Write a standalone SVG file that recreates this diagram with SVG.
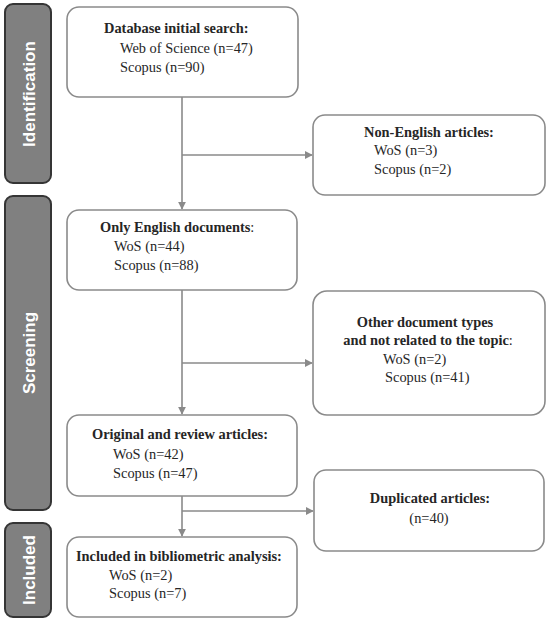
<svg xmlns="http://www.w3.org/2000/svg" width="550" height="623" viewBox="0 0 550 623">
<defs>
<style>
.side{fill:#808080;stroke:#353535;stroke-width:2}
.sidet{font-family:"Liberation Sans",Arial,sans-serif;font-weight:bold;font-size:17px;fill:#fff;text-anchor:middle}
.box{fill:#fff;stroke:#8a8a8a;stroke-width:1.6}
.t{font-family:"Liberation Serif","Times New Roman",serif;font-size:14.4px;fill:#262626}
.b{font-weight:bold}
.n{font-weight:normal}
.c{stroke:#8a8a8a;stroke-width:1.6;fill:none}
</style>
<marker id="arr" viewBox="0 0 10 10" refX="9" refY="5" markerWidth="8" markerHeight="8" markerUnits="userSpaceOnUse" orient="auto">
<path d="M0,0 L10,5 L0,10 z" fill="#8a8a8a"/>
</marker>
</defs>
<rect width="550" height="623" fill="#fff"/>
<g id="phase-identification">
<rect class="side" x="5" y="4" width="46" height="179" rx="8"/>
<text class="sidet" transform="translate(35,94) rotate(-90)">Identification</text>
</g>
<g id="phase-screening">
<rect class="side" x="5" y="196" width="46" height="314" rx="8"/>
<text class="sidet" transform="translate(35,353) rotate(-90)">Screening</text>
</g>
<g id="phase-included">
<rect class="side" x="5" y="523" width="46" height="94" rx="8"/>
<text class="sidet" transform="translate(35,570) rotate(-90)">Included</text>
</g>
<g id="connectors">
<line class="c" x1="182" y1="97" x2="182" y2="209" marker-end="url(#arr)"/>
<line class="c" x1="182" y1="155" x2="312" y2="155" marker-end="url(#arr)"/>
<line class="c" x1="182" y1="290" x2="182" y2="414" marker-end="url(#arr)"/>
<line class="c" x1="182" y1="363" x2="312" y2="363" marker-end="url(#arr)"/>
<line class="c" x1="182" y1="496" x2="182" y2="536" marker-end="url(#arr)"/>
<line class="c" x1="182" y1="511" x2="313" y2="511" marker-end="url(#arr)"/>
</g>
<g id="box-database">
<rect class="box" x="67" y="7" width="231" height="90" rx="12"/>
<text class="t b" x="104" y="33">Database initial search:</text>
<text class="t" x="120" y="53">Web of Science (n=47)</text>
<text class="t" x="120" y="72">Scopus (n=90)</text>
</g>
<g id="box-nonenglish">
<rect class="box" x="313" y="115" width="232" height="80" rx="12"/>
<text class="t b" x="364" y="137">Non-English articles:</text>
<text class="t" x="374" y="155">WoS (n=3)</text>
<text class="t" x="374" y="174">Scopus (n=2)</text>
</g>
<g id="box-english">
<rect class="box" x="67" y="210" width="230" height="80" rx="12"/>
<text class="t b" x="100" y="232">Only English documents<tspan class="n">:</tspan></text>
<text class="t" x="114" y="251">WoS (n=44)</text>
<text class="t" x="114" y="270">Scopus (n=88)</text>
</g>
<g id="box-other">
<rect class="box" x="313" y="291" width="232" height="124" rx="14"/>
<text class="t b" x="425" y="327" text-anchor="middle">Other document types</text>
<text class="t b" x="428" y="345" text-anchor="middle">and not related to the topic<tspan class="n">:</tspan></text>
<text class="t" x="383" y="364">WoS (n=2)</text>
<text class="t" x="385" y="382">Scopus (n=41)</text>
</g>
<g id="box-original">
<rect class="box" x="67" y="415" width="230" height="81" rx="12"/>
<text class="t b" x="92" y="439">Original and review articles:</text>
<text class="t" x="113" y="459">WoS (n=42)</text>
<text class="t" x="113" y="478">Scopus (n=47)</text>
</g>
<g id="box-duplicated">
<rect class="box" x="314" y="470" width="230" height="81" rx="12"/>
<text class="t b" x="430" y="503" text-anchor="middle">Duplicated articles:</text>
<text class="t" x="429" y="523" text-anchor="middle">(n=40)</text>
</g>
<g id="box-included">
<rect class="box" x="67" y="537" width="230" height="80" rx="12"/>
<text class="t b" x="76" y="561">Included in bibliometric analysis:</text>
<text class="t" x="109" y="580">WoS (n=2)</text>
<text class="t" x="109" y="598">Scopus (n=7)</text>
</g>
</svg>
